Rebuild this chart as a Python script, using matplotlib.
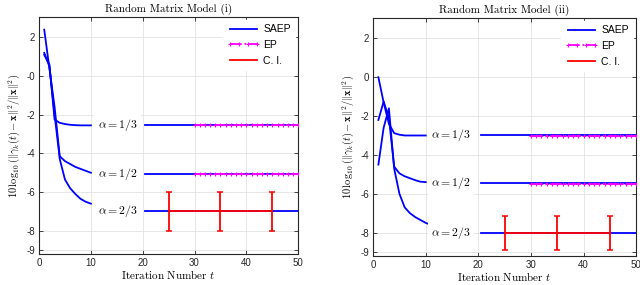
import numpy as np
import matplotlib
matplotlib.use("Agg")
import matplotlib.pyplot as plt

plt.rcParams["mathtext.fontset"] = "cm"
plt.rcParams["font.family"] = ["Liberation Sans", "DejaVu Sans"]

# ---- data ----
t_early = [1, 2, 3, 4, 5, 6, 7, 8, 9, 10]
t_early_long = [1, 2, 3, 4, 5, 6, 7, 8, 9, 10, 11]
t_late = [20.5, 50]
t_ep = list(range(30, 51))
t_ci = [25, 35, 45]

# model (i)
saep_i_13 = [1.1, 0.6, -2.25, -2.42, -2.48, -2.52, -2.54, -2.55, -2.55, -2.55]
saep_i_12 = [2.4, 0.4, -1.6, -4.15, -4.4, -4.55, -4.7, -4.8, -4.9, -5.0]
saep_i_23 = [1.2, 0.5, -2.0, -4.3, -5.35, -5.8, -6.1, -6.35, -6.5, -6.6]
late_i = [-2.55, -5.05, -7.0]
ep_i = [-2.55, -5.05]
ci_i_center = -7.0
ci_i_half = 1.0

# model (ii)
saep_ii_13 = [0.0, -1.3, -2.4, -2.88, -2.96, -3.0, -3.0, -3.0, -3.0, -3.0]
saep_ii_12 = [-2.2, -1.25, -2.1, -4.6, -4.95, -5.1, -5.2, -5.3, -5.38, -5.4]
saep_ii_23 = [-4.5, -2.6, -1.6, -4.7, -6.0, -6.7, -7.0, -7.2, -7.35, -7.5, -7.6]
late_ii = [-3.0, -5.45, -8.0]
ep_ii = [-3.05, -5.5]
ci_ii_center = -8.0
ci_ii_half = 0.87

alpha_labels = [r"$\alpha = 1/3$", r"$\alpha = 1/2$", r"$\alpha = 2/3$"]
yticks = [2, 0, -2, -4, -6, -8, -9]

BLUE, MAG, RED = (0, 0, 1), (1, 0, 1), (1, 0, 0)


def draw_panel(ax, title, early, late, ep, ci_c, ci_h, zero_label, label_x):
    t_list = [t_early, t_early, t_early_long if len(early[2]) == 11 else t_early]
    for tt, yy in zip(t_list, early):
        ax.plot(tt, yy, color=BLUE, lw=1.3, zorder=3)
    for y in late:
        ax.plot(t_late, [y, y], color=BLUE, lw=1.3, zorder=3)
    for y in ep:
        ax.plot(t_ep, [y] * len(t_ep), color=MAG, lw=1.3, ls="-.",
                marker="+", ms=3.5, mew=0.8, zorder=4)
    ax.errorbar(t_ci, [ci_c] * len(t_ci), yerr=ci_h, color=RED, lw=1.3,
                elinewidth=1.3, capsize=2, capthick=1.1, zorder=5)
    for lab, y in zip(alpha_labels, late):
        ax.text(label_x, y, lab, fontsize=8.5, ha="center", va="center", zorder=6,
                bbox=dict(facecolor="white", edgecolor="none", pad=2.5))

    ax.set_xlim(0, 50)
    ax.set_ylim(-9.2, 3.05)
    ax.set_xticks([0, 10, 20, 30, 40, 50])
    ax.set_yticks(yticks)
    ax.set_yticklabels(["2", zero_label, "-2", "-4", "-6", "-8", "-9"])
    ax.tick_params(direction="in", length=3, width=0.6, labelsize=7,
                   colors="#262626", top=True, right=True, pad=3)
    ax.grid(True, color="#e3e3e3", lw=0.6)
    ax.set_axisbelow(True)
    for s in ax.spines.values():
        s.set_linewidth(0.8)
        s.set_color("#262626")
    ax.set_title(title, family="cmr10", fontsize=8, pad=4)
    ax.set_xlabel(r"Iteration Number $t$", family="cmr10", fontsize=8, labelpad=0)
    ax.set_ylabel(r"$10\,\log_{10}(\|\gamma_k(t) - \mathbf{x}\|^2/\|\mathbf{x}\|^2)$",
                  fontsize=7.5, labelpad=3)

    h1, = ax.plot([], [], color=BLUE, lw=1.3)
    h2, = ax.plot([], [], color=MAG, lw=1.3, ls="-.", marker="+", ms=3.5, mew=0.8)
    h3, = ax.plot([], [], color=RED, lw=1.3)
    leg = ax.legend([h1, h2, h3], ["SAEP", "EP", "C. I."], loc="upper right",
                    fontsize=7.5, frameon=True, fancybox=False, edgecolor="white",
                    framealpha=1, handlelength=3.2, borderaxespad=0.3,
                    labelspacing=0.55, handletextpad=0.3, numpoints=4)
    leg.set_zorder(10)


fig = plt.figure(figsize=(6.4, 2.85), dpi=100)
ax1 = fig.add_axes([0.061, 0.109, 0.405, 0.831])
ax2 = fig.add_axes([0.583, 0.102, 0.411, 0.835])

draw_panel(ax1, "Random Matrix Model (i)", [saep_i_13, saep_i_12, saep_i_23],
           late_i, ep_i, ci_i_center, ci_i_half, "-0", 15.2)
draw_panel(ax2, "Random Matrix Model (ii)", [saep_ii_13, saep_ii_12, saep_ii_23],
           late_ii, ep_ii, ci_ii_center, ci_ii_half, "0", 14.8)

fig.savefig("out.png", dpi=100)
